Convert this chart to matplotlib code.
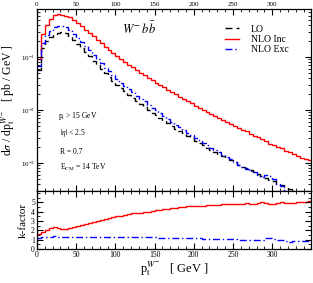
import numpy as np
import matplotlib
matplotlib.use('Agg')
import matplotlib.pyplot as plt
from matplotlib.ticker import MultipleLocator, FixedLocator, LogLocator, NullFormatter

plt.rcParams['font.family'] = ['Liberation Serif', 'DejaVu Serif']
plt.rcParams['mathtext.fontset'] = 'stix'

# 5 GeV bins, 0 - 350 GeV
edges = np.arange(0, 355, 5)

# log10 of LO dsigma/dpt [pb/GeV], per bin
lo_log = [-1.25, -0.83, -0.70, -0.62, -0.57, -0.54, -0.53, -0.55, -0.60, -0.67,
          -0.75, -0.83, -0.91, -0.99, -1.07, -1.15, -1.23, -1.31, -1.38, -1.45,
          -1.52, -1.59, -1.65, -1.71, -1.77, -1.83, -1.89, -1.94, -2.00, -2.05,
          -2.10, -2.15, -2.20, -2.25, -2.30, -2.35, -2.40, -2.44, -2.49, -2.53,
          -2.58, -2.62, -2.67, -2.71, -2.75, -2.79, -2.83, -2.87, -2.91, -2.95,
          -2.99, -3.03, -3.07, -3.10, -3.14, -3.18, -3.21, -3.25, -3.28, -3.32,
          -3.35, -3.39, -3.42, -3.46, -3.49, -3.53, -3.56, -3.60, -3.63, -3.66]

# k-factors NLO/LO, per bin
k_inc = [1.60, 1.85, 2.00, 2.20, 2.35, 2.25, 2.10, 2.15, 2.25, 2.35,
         2.45, 2.55, 2.65, 2.80, 2.90, 3.00, 3.10, 3.20, 3.30, 3.40,
         3.50, 3.55, 3.65, 3.70, 3.80, 3.85, 3.90, 3.95, 4.00, 4.10,
         4.15, 4.20, 4.25, 4.30, 4.35, 4.40, 4.45, 4.50, 4.55, 4.55,
         4.60, 4.62, 4.65, 4.68, 4.70, 4.72, 4.75, 4.78, 4.80, 4.85,
         4.80, 4.80, 4.85, 4.95, 4.85, 4.80, 4.95, 5.00, 4.95, 4.85,
         4.85, 4.90, 5.05, 4.90, 4.95, 4.95, 5.00, 5.00, 5.05, 5.15]
k_exc = [1.20, 1.25, 1.30, 1.32, 1.35, 1.33, 1.30, 1.30, 1.30, 1.30,
         1.30, 1.30, 1.30, 1.30, 1.30, 1.29, 1.29, 1.29, 1.28, 1.28,
         1.28, 1.28, 1.27, 1.27, 1.27, 1.26, 1.26, 1.26, 1.25, 1.25,
         1.24, 1.23, 1.22, 1.21, 1.20, 1.19, 1.18, 1.17, 1.16, 1.15,
         1.14, 1.13, 1.12, 1.10, 1.09, 1.08, 1.07, 1.06, 1.05, 1.04,
         1.02, 1.00, 0.98, 0.97, 0.98, 1.00, 0.96, 0.98, 1.15, 1.20,
         1.10, 1.00, 0.95, 0.85, 0.80, 0.85, 0.90, 0.88, 0.86, 0.85]

xticks = [0, 50, 100, 150, 200, 250, 300]

lo = 10 ** np.array(lo_log)
nlo_inc = lo * np.array(k_inc)
nlo_exc = lo * np.array(k_exc)

fig = plt.figure(figsize=(3.13, 2.83), dpi=100)
ax = fig.add_axes([0.118, 0.325, 0.877, 0.643])
axk = fig.add_axes([0.118, 0.12, 0.877, 0.205], sharex=ax)

ax.stairs(lo, edges, color='black', lw=1.0, ls=(0, (5, 3)), label='LO', baseline=None)
ax.stairs(nlo_inc, edges, color='red', lw=1.0, label='NLO Inc', baseline=None)
ax.stairs(nlo_exc, edges, color='blue', lw=1.0, ls=(0, (5, 2, 1, 2)), label='NLO Exc', baseline=None)
ax.set_yscale('log')
ax.set_xlim(0, 350)
ax.set_ylim(2.95e-4, 0.805)
ax.yaxis.set_major_locator(LogLocator(base=10, numticks=10))
ax.yaxis.set_minor_locator(LogLocator(base=10, subs=np.arange(2, 10), numticks=10))
ax.yaxis.set_minor_formatter(NullFormatter())
ax.xaxis.set_major_locator(FixedLocator(xticks))
ax.xaxis.set_minor_locator(MultipleLocator(10))
ax.tick_params(which='both', direction='in', top=True, right=True, labeltop=True,
               labelbottom=False, labelsize=5, pad=1.5)
ax.tick_params(which='major', length=4)
ax.tick_params(which='minor', length=2)
ax.set_ylabel(r'd$\sigma$ / dp$_{\rm t}^{W^{-}}$   [ pb / GeV ]', fontsize=8.5, labelpad=2)

ax.legend(loc='upper left', bbox_to_anchor=(0.686, 0.915), frameon=False, fontsize=7,
          handlelength=1.4, handletextpad=1.2, labelspacing=0.15,
          borderaxespad=0, borderpad=0)
ax.text(0.31, 0.865, r'$W^{-}\,b\bar{b}$', transform=ax.transAxes, fontsize=9)
ax.text(0.075, 0.40, r'p$_{\rm t}$ > 15 GeV', transform=ax.transAxes, fontsize=5.5)
ax.text(0.085, 0.31, r'$|\eta|$ < 2.5', transform=ax.transAxes, fontsize=5.5)
ax.text(0.085, 0.205, 'R = 0.7', transform=ax.transAxes, fontsize=5.5)
ax.text(0.085, 0.115, r'E$_{\rm CM}$ = 14 TeV', transform=ax.transAxes, fontsize=5.5)

axk.stairs(k_inc, edges, color='red', lw=1.0, baseline=None)
axk.stairs(k_exc, edges, color='blue', lw=1.0, ls=(0, (5, 2, 1, 2)), baseline=None)
axk.set_ylim(0, 6.2)
axk.set_yticks([0, 1, 2, 3, 4, 5])
axk.yaxis.set_minor_locator(MultipleLocator(0.5))
axk.tick_params(which='both', direction='in', top=True, right=True, labelsize=5.5, pad=1.5)
axk.tick_params(which='major', length=4)
axk.tick_params(which='minor', length=2)
axk.set_ylabel('k-factor', fontsize=8, labelpad=2)
axk.set_xlabel(r'p$_{\rm t}^{W^{-}}$   [ GeV ]', fontsize=9, labelpad=0)

for a in (ax, axk):
    for s in a.spines.values():
        s.set_linewidth(0.9)

fig.savefig('out.png', dpi=100)
